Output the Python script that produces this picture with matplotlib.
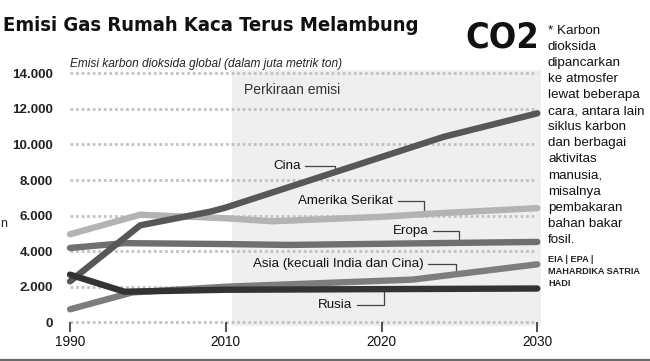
import numpy as np
import matplotlib
matplotlib.use('Agg')
import matplotlib.pyplot as plt
from matplotlib import font_manager as fm
from matplotlib.font_manager import FontProperties

SANS = 'Liberation Sans'


def find_condensed_bold():
    best = None
    for f in fm.fontManager.ttflist:
        fname = f.fname.lower()
        narrowish = ('condensed' in fname or 'narrow' in fname or
                     str(f.stretch) in ('condensed', 'semi-condensed', 'extra-condensed'))
        if not narrowish:
            continue
        w = f.weight if isinstance(f.weight, int) else (700 if 'bold' in str(f.weight) else 400)
        if 'oblique' in fname or 'italic' in fname:
            continue
        score = abs(w - 700)
        if best is None or score < best[0]:
            best = (score, f.fname)
    return best[1] if best else None


cond = find_condensed_bold()
if cond:
    BOLD_COND = FontProperties(fname=cond)
else:
    BOLD_COND = FontProperties(family=SANS, weight='bold')

# ---------------- data ----------------
years_cina = [1990, 1999, 2008, 2010, 2024, 2030]
cina = [2300, 5450, 6220, 6450, 10430, 11750]

years_us = [1990, 1999, 2010, 2013, 2020, 2023, 2030]
us = [4950, 6050, 5850, 5680, 5930, 6100, 6420]

years_eu = [1990, 1997, 2010, 2014, 2030]
eropa = [4180, 4450, 4400, 4350, 4520]

years_asia = [1990, 1998, 2010, 2022, 2030]
asia = [730, 1680, 2000, 2400, 3260]

years_rus = [1990, 1997, 2010, 2030]
rusia = [2680, 1720, 1830, 1900]

xticks = [1990, 2010, 2020, 2030]
yticks = [0, 2000, 4000, 6000, 8000, 10000, 12000, 14000]

title = "Emisi Gas Rumah Kaca Terus Melambung"
subtitle = "Emisi karbon dioksida global (dalam juta metrik ton)"
forecast_label = "Perkiraan emisi"
forecast_start, forecast_end = 2010.4, 2030.25

note_lines = ["* Karbon", "dioksida", "dipancarkan", "ke atmosfer", "lewat beberapa",
              "cara, antara lain", "siklus karbon", "dan berbagai", "aktivitas",
              "manusia,", "misalnya", "pembakaran", "bahan bakar", "fosil."]
source_lines = ["EIA | EPA |", "MAHARDIKA SATRIA", "HADI"]

# label: (text, text right-end year, text value, connector year, series years, series values)
labels = [
    ("Cina", 2014.8, 8780, 2017.0, years_cina, cina),
    ("Amerika Serikat", 2020.75, 6830, 2022.7, years_us, us),
    ("Eropa", 2023.0, 5130, 2025.0, years_eu, eropa),
    ("Asia (kecuali India dan Cina)", 2022.7, 3280, 2024.8, years_asia, asia),
    ("Rusia", 2018.1, 1000, 2020.15, years_rus, rusia),
]

series = [
    (years_us, us, '#b3b3b3'),
    (years_eu, eropa, '#6f6f6f'),
    (years_asia, asia, '#7d7d7d'),
    (years_cina, cina, '#575757'),
    (years_rus, rusia, '#333333'),
]


# ---------------- scale (compressed 1990-2010) ----------------
def fwd(x):
    x = np.asarray(x, float)
    return np.where(x < 2010, (x - 1990) / 2.0, x - 2000.0)


def inv(p):
    p = np.asarray(p, float)
    return np.where(p < 10, 1990 + 2.0 * p, p + 2000.0)


W, H = 650, 361
fig = plt.figure(figsize=(W / 100, H / 100), dpi=100)
fig.patch.set_facecolor('white')
ax = fig.add_axes([70 / W, 1 - 322.3 / H, 467.3 / W, 249 / H])
ax.set_xscale('function', functions=(fwd, inv))
ax.set_xlim(1990, 2030)
ax.set_ylim(0, 14000)
for s in ax.spines.values():
    s.set_visible(False)
ax.set_facecolor('none')

# forecast shading
ax.fill_between([forecast_start, forecast_end], -220, 14200, color='#efefef',
                lw=0, zorder=0, clip_on=False)
ax.text(2011.2, 13050, forecast_label, fontsize=10, family=SANS, color='#333333',
        va='center', ha='left', zorder=3)

# gridlines
ax.hlines(yticks, 1990, 2030, colors='#c2c2c2', linestyles=(0, (1, 1)), lw=2,
          zorder=1, clip_on=False)

# series
for yrs, vals, col in series:
    ax.plot(yrs, vals, color=col, lw=4.6, solid_capstyle='round',
            solid_joinstyle='round', zorder=4, clip_on=False)

# labels + connectors
for txt, xr, yv, xc, yrs, vals in labels:
    ax.text(xr, yv, txt, ha='right', va='center', fontsize=9.6, family=SANS,
            color='#111111', zorder=6)
    target = float(np.interp(xc, yrs, vals))
    ax.plot([xr + 0.3, xc, xc], [yv, yv, target], color='#444444', lw=0.9,
            zorder=3, clip_on=False)

# ticks
ax.set_xticks(xticks)
ax.set_xticklabels([str(t) for t in xticks], family=SANS, fontsize=9.8, color='#111111')
ax.tick_params(axis='x', length=7.5, width=1.1, color='#222222', pad=2)
ax.xaxis.set_minor_locator(matplotlib.ticker.NullLocator())
ax.set_yticks(yticks)
ax.set_yticklabels([f"{v:,}".replace(',', '.') for v in yticks], family=SANS,
                   fontsize=9.6, fontweight='bold', color='#222222')
ax.tick_params(axis='y', length=0, pad=12)

renderer = fig.canvas.get_renderer()


def fit_text(x_px, y_px, s, target_w, size, fp, ha='left'):
    fp = fp.copy()
    fp.set_size(size)
    t = fig.text(x_px / W, 1 - y_px / H, s, fontproperties=fp, color='#111111',
                 va='center', ha=ha)
    w = t.get_window_extent(renderer).width
    if w > 0:
        fp.set_size(size * target_w / w)
        t.set_fontproperties(fp)
    return t


# titles / side text
fit_text(3, 25.5, title, 418, 17.3, BOLD_COND)
fit_text(539, 37, "CO2", 74, 26, BOLD_COND, ha='right')
fig.text(70 / W, 1 - 64 / H, subtitle, fontsize=8.6, style='italic', family=SANS,
         color='#222222', va='center', ha='left')

for i, line in enumerate(note_lines):
    fig.text(548 / W, 1 - (30.7 + 16.1 * i) / H, line, fontsize=9.6, family=SANS,
             color='#111111', va='center', ha='left')
for i, line in enumerate(source_lines):
    fig.text(548 / W, 1 - (259.3 + 12 * i) / H, line, fontsize=6.6, family=SANS,
             fontweight='bold', color='#222222', va='center', ha='left')

# small glyph at the left edge
fig.text(0.5 / W, 1 - 224 / H, "n", fontsize=9, family=SANS, color='#222222',
         va='center', ha='left')

# bottom rule
fig.add_artist(plt.Line2D([0, 1], [1 - 359.5 / H, 1 - 359.5 / H], color='#6a6a6a',
                          lw=1.6, transform=fig.transFigure))

fig.savefig('out.png', dpi=100, facecolor='white')
